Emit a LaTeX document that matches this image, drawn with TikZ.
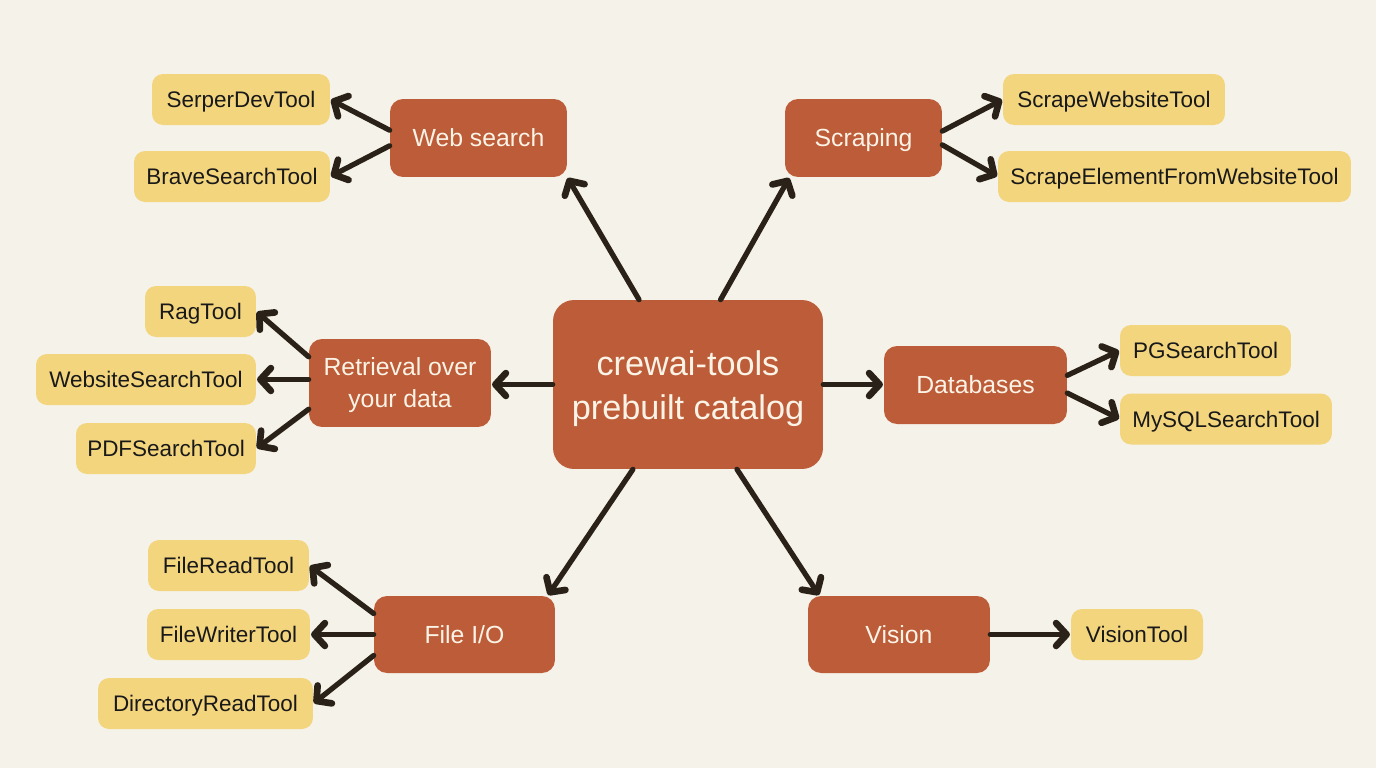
\documentclass[tikz,border=0pt]{standalone}
\usepackage{fontspec}
\setmainfont{Liberation Sans}
\usetikzlibrary{arrows.meta}
\definecolor{pagebg}{HTML}{F5F2E9}
\definecolor{rust}{HTML}{BC5C38}
\definecolor{straw}{HTML}{F3D57E}
\definecolor{ink}{HTML}{2A2118}
\definecolor{cream}{HTML}{FBF3E6}
\tikzset{
	hubbox/.style={fill=rust, text=cream, rounded corners=0.42cm, inner sep=0pt, align=center, text height=40.3pt, text depth=0pt, font=\fontsize{19.5}{25}\selectfont},
	groupbox/.style={fill=rust, text=cream, rounded corners=0.26cm, inner sep=0pt, align=center, text height=10pt, text depth=0pt, font=\fontsize{14.1}{18}\selectfont},
	toolbox/.style={fill=straw, text=black!90, rounded corners=0.22cm, inner sep=0pt, minimum height=1.02cm, text height=9.2pt, text depth=0pt, font=\fontsize{12.8}{16}\selectfont},
	link/.style={draw=ink, line width=3pt, line cap=round, -{Straight Barb[round, length=6pt, width=13pt, line width=3.8pt]}, shorten >=0.4pt},
}
\begin{document}
\begin{tikzpicture}[x=0.02cm, y=-0.02cm]
	\fill[pagebg] (0,0) rectangle (1376,768);
	% centre and groups
	\node[hubbox, minimum width=5.4cm, minimum height=3.38cm] (hub) at (688,384.5) {crewai-tools\\prebuilt catalog};
	\node[groupbox, minimum width=3.54cm, minimum height=1.56cm] (web) at (478.5,138) {Web search};
	\node[groupbox, minimum width=3.14cm, minimum height=1.56cm] (scrape) at (863.5,138) {Scraping};
	\node[groupbox, minimum width=3.66cm, minimum height=1.56cm] (db) at (975.5,385) {Databases};
	\node[groupbox, text height=28pt, minimum width=3.64cm, minimum height=1.76cm] (rag) at (400,383) {Retrieval over\\your data};
	\node[groupbox, minimum width=3.62cm, minimum height=1.54cm] (file) at (464.5,634.5) {File I/O};
	\node[groupbox, minimum width=3.64cm, minimum height=1.54cm] (vision) at (899,634.5) {Vision};
	% tools
	\node[toolbox, minimum width=3.56cm] (serper) at (241,99.5) {SerperDevTool};
	\node[toolbox, minimum width=3.92cm] (brave) at (232,176.5) {BraveSearchTool};
	\node[toolbox, minimum width=4.44cm] (scrapeweb) at (1114,99.5) {ScrapeWebsiteTool};
	\node[toolbox, minimum width=7.06cm] (scrapeel) at (1174.5,176.5) {ScrapeElementFromWebsiteTool};
	\node[toolbox, minimum width=3.42cm] (pg) at (1205.5,350.5) {PGSearchTool};
	\node[toolbox, minimum width=4.24cm] (mysql) at (1226,419) {MySQLSearchTool};
	\node[toolbox, minimum width=2.22cm] (ragtool) at (200.5,311.5) {RagTool};
	\node[toolbox, minimum width=4.4cm] (site) at (146,379.5) {WebsiteSearchTool};
	\node[toolbox, minimum width=3.6cm] (pdf) at (166,448.5) {PDFSearchTool};
	\node[toolbox, minimum width=3.22cm] (fread) at (228.5,565.5) {FileReadTool};
	\node[toolbox, minimum width=3.26cm] (fwrite) at (228.5,634.5) {FileWriterTool};
	\node[toolbox, minimum width=4.3cm] (dread) at (205.5,703.5) {DirectoryReadTool};
	\node[toolbox, minimum width=2.64cm] (vtool) at (1137,634.5) {VisionTool};
	% from the centre
	\draw[link] (hub.120) -- (web.south east);
	\draw[link] (hub.69) -- (scrape.208);
	\draw[link] (hub.west) -- (hub.west -| rag.east);
	\draw[link] (hub.east) -- (hub.east -| db.west);
	\draw[link] (hub.237) -- (file.25);
	\draw[link] (hub.300) -- (vision.154);
	% to the tools
	\draw[link] (web.175) -- (serper.east);
	\draw[link] (web.185) -- (brave.east);
	\draw[link] (scrape.5) -- (scrapeweb.west);
	\draw[link] (scrape.-5) -- (scrapeel.west);
	\draw[link] (db.6) -- (pg.west);
	\draw[link] (db.-5) -- (mysql.west);
	\draw[link] (rag.164) -- (ragtool.east);
	\draw[link] (site.east -| rag.west) -- (site.east);
	\draw[link] (rag.196) -- (pdf.east);
	\draw[link] (file.167) -- (fread.east);
	\draw[link] (file.west) -- (fwrite.east);
	\draw[link] (file.193) -- (dread.east);
	\draw[link] (vision.east) -- (vtool.west);
\end{tikzpicture}
\end{document}
